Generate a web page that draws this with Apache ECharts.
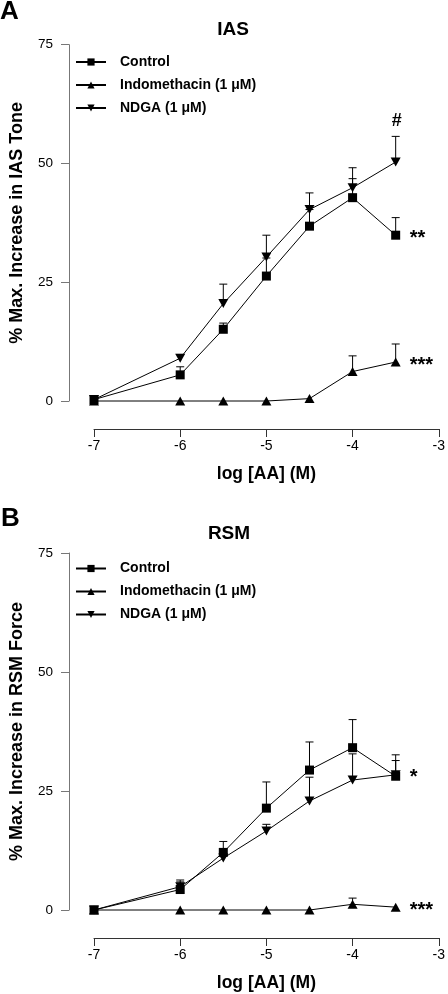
<!DOCTYPE html>
<html>
<head>
<meta charset="utf-8">
<script src="https://cdn.jsdelivr.net/npm/echarts@6/dist/echarts.min.js"></script>
<style>html,body{margin:0;padding:0;background:#fff}#c{width:448px;height:994px}</style>
</head>
<body>
<div id="c"></div>
<script>
// ---- data ----
const xVals = [-7, -6, -5.5, -5, -4.5, -4, -3.5];
const seriesNames = ['Control', 'Indomethacin (1 \u03bcM)', 'NDGA (1 \u03bcM)'];
const xTicks = [-7, -6, -5, -4, -3];
const yTicks = [0, 25, 50, 75];

const iasControl    = [0.3, 5.5, 15.1, 26.3, 36.8, 42.8, 34.9];
const iasControlErr = [0, 1.7, 1.3, 3.8, 3.5, 4.0, 3.7];
const iasIndo       = [0, 0, 0, 0, 0.5, 6.2, 8.2];
const iasIndoErr    = [0, 0, 0, 0, 0, 3.3, 3.8];
const iasNdga       = [0.3, 9.0, 20.5, 30.3, 40.3, 44.9, 50.3];
const iasNdgaErr    = [0, 0.8, 4.1, 4.6, 3.5, 4.2, 5.4];

const rsmControl    = [0, 4.3, 12.1, 21.4, 29.4, 34.1, 28.1];
const rsmControlErr = [0, 2.0, 2.3, 5.5, 5.9, 5.9, 4.5];
const rsmIndo       = [0, 0, 0, 0, 0, 1.2, 0.6];
const rsmIndoErr    = [0, 0, 0, 0, 0, 1.3, 0];
const rsmNdga       = [0, 4.9, 10.9, 16.6, 22.9, 27.3, 28.4];
const rsmNdgaErr    = [0, 1.0, 1.0, 1.4, 5.0, 5.5, 3.0];

// significance notes: [text, x, y]
const iasNotes = [['#', -3.5, 59], ['**', -3.5, 34.9], ['***', -3.5, 8.2]];
const rsmNotes = [['*', -3.5, 28.4], ['***', -3.5, 0.6]];

// ---- chart ----
const FONT = '"Liberation Sans", Arial, Helvetica, sans-serif';
const chart = echarts.init(document.getElementById('c'), null, {renderer: 'canvas'});

const symbols = ['rect', 'triangle', 'path://M0,0 L10,0 L5,9 Z'];
const symSizes = [9, [10, 9], [10, 9]];

function pair(xs, ys) { return xs.map((x, i) => [x, ys[i]]); }
function triple(xs, ys, es) { return xs.map((x, i) => [x, ys[i], es[i]]); }

function errSeries(idx, ys, es) {
  return {
    type: 'custom', xAxisIndex: idx, yAxisIndex: idx, z: 1, silent: true,
    data: triple(xVals, ys, es),
    renderItem: function (params, api) {
      const x = api.value(0), y = api.value(1), e = api.value(2);
      if (!e) return null;
      const p0 = api.coord([x, y]);
      const p1 = api.coord([x, y + e]);
      const st = {stroke: '#000', lineWidth: 1};
      return {type: 'group', children: [
        {type: 'line', shape: {x1: p0[0], y1: p0[1], x2: p1[0], y2: p1[1]}, style: st},
        {type: 'line', shape: {x1: p1[0] - 4, y1: p1[1], x2: p1[0] + 4, y2: p1[1]}, style: st}
      ]};
    }
  };
}

function lineSeries(idx, k, ys) {
  return {
    type: 'line', name: seriesNames[k], xAxisIndex: idx, yAxisIndex: idx, z: 3,
    data: pair(xVals, ys), symbol: symbols[k], symbolSize: symSizes[k], showSymbol: true,
    clip: false, animation: false,
    lineStyle: {color: '#000', width: 1},
    itemStyle: {color: '#000', borderWidth: 0}
  };
}

function noteSeries(idx, notes) {
  return {
    type: 'custom', xAxisIndex: idx, yAxisIndex: idx, z: 4, silent: true,
    data: notes.map(n => [n[1], n[2]]),
    renderItem: function (params, api) {
      const n = notes[params.dataIndex];
      const p = api.coord([n[1], n[2]]);
      const isHash = n[0] === '#';
      return {type: 'text', style: {
        text: n[0], x: isHash ? p[0] + 1 : p[0] + 14, y: isHash ? p[1] : p[1] + 3,
        textAlign: isHash ? 'center' : 'left', textVerticalAlign: 'middle',
        font: (isHash ? 'bold 18px ' : 'bold 20px ') + FONT, fill: '#000'
      }};
    }
  };
}

function xAxisCfg(idx) {
  return {
    type: 'value', gridIndex: idx, min: -7, max: -3, interval: 1, offset: 28,
    name: 'log [AA] (M)', nameLocation: 'middle', nameGap: 36,
    nameTextStyle: {fontFamily: FONT, fontWeight: 'bold', fontSize: 17.5, color: '#000'},
    axisLine: {show: true, onZero: false, lineStyle: {color: '#333', width: 1}},
    axisTick: {show: true, length: 8, lineStyle: {color: '#333'}},
    axisLabel: {fontFamily: FONT, fontSize: 14, color: '#000', margin: 10, showMaxLabel: true},
    splitLine: {show: false}
  };
}
function yAxisCfg(idx, title) {
  return {
    type: 'value', gridIndex: idx, min: 0, max: 75, interval: 25, offset: 25,
    name: title, nameLocation: 'middle', nameGap: 43, nameRotate: 90,
    nameTextStyle: {fontFamily: FONT, fontWeight: 'bold', fontSize: 18, color: '#000'},
    axisLine: {show: true, lineStyle: {color: '#777', width: 1}},
    axisTick: {show: true, length: 8, lineStyle: {color: '#777'}},
    axisLabel: {fontFamily: FONT, fontSize: 13.5, color: '#000', margin: 16},
    splitLine: {show: false}
  };
}
function legendCfg(top) {
  return {
    data: seriesNames, orient: 'vertical', left: 70, top: top, itemGap: 9,
    itemWidth: 30, itemHeight: 9, selectedMode: false,
    textStyle: {fontFamily: FONT, fontWeight: 'bold', fontSize: 14, lineHeight: 14, color: '#000', padding: [0, 0, 0, 9]}
  };
}

const option = {
  animation: false,
  backgroundColor: '#fff',
  grid: [
    {left: 84, right: 4, top: 44.7, height: 356.3},
    {left: 84, right: 4, top: 553, height: 357}
  ],
  xAxis: [xAxisCfg(0), xAxisCfg(1)],
  yAxis: [yAxisCfg(0, '% Max. Increase in IAS Tone'), yAxisCfg(1, '% Max. Increase in RSM Force')],
  legend: [legendCfg(50), legendCfg(556.5)],
  graphic: [
    {type: 'text', left: 0, top: -1, style: {text: 'A', font: 'bold 26px ' + FONT, fill: '#000'}},
    {type: 'text', x: 233, y: 30, style: {text: 'IAS', font: 'bold 19px ' + FONT, fill: '#000', textAlign: 'center', textVerticalAlign: 'middle'}},
    {type: 'text', left: 1, top: 506, style: {text: 'B', font: 'bold 26px ' + FONT, fill: '#000'}},
    {type: 'text', x: 229, y: 534, style: {text: 'RSM', font: 'bold 19px ' + FONT, fill: '#000', textAlign: 'center', textVerticalAlign: 'middle'}}
  ],
  series: [
    errSeries(0, iasControl, iasControlErr),
    errSeries(0, iasIndo, iasIndoErr),
    errSeries(0, iasNdga, iasNdgaErr),
    lineSeries(0, 0, iasControl),
    lineSeries(0, 1, iasIndo),
    lineSeries(0, 2, iasNdga),
    noteSeries(0, iasNotes),
    errSeries(1, rsmControl, rsmControlErr),
    errSeries(1, rsmIndo, rsmIndoErr),
    errSeries(1, rsmNdga, rsmNdgaErr),
    lineSeries(1, 0, rsmControl),
    lineSeries(1, 1, rsmIndo),
    lineSeries(1, 2, rsmNdga),
    noteSeries(1, rsmNotes)
  ]
};
chart.setOption(option);
</script>
</body>
</html>
